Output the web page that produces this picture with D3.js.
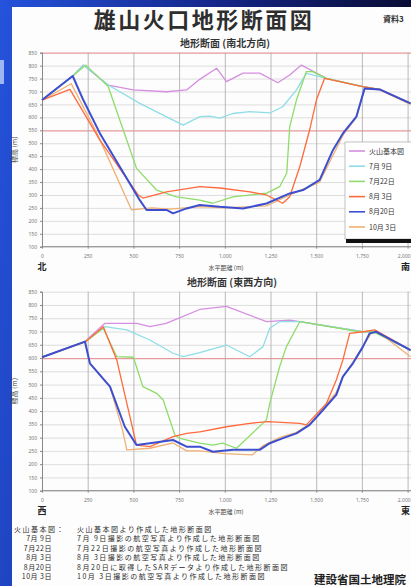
<!DOCTYPE html>
<html>
<head>
<meta charset="utf-8">
<script src="https://cdn.jsdelivr.net/npm/d3@7"></script>
<style>
	body { margin: 0; overflow: hidden; background: #1b3cc4; }
	svg { display: block; font-family: "Noto Sans CJK JP", "Noto Sans", sans-serif; }
</style>
</head>
<body>
<div id="root"></div>
<script>
// series names / colours
const seriesNames = ["火山基本図", "7月 9日", "7月22日", "8月 3日", "8月20日", "10月 3日"];
const seriesColors = ["#d58ee0", "#8fdde6", "#8edc6a", "#ff6a3c", "#3c4fd0", "#efb072"];
const distTicks = [0, 250, 500, 750, 1000, 1250, 1500, 1750, 2000];
const elevTicks = [100, 150, 200, 250, 300, 350, 400, 450, 500, 550, 600, 650, 700, 750, 800, 850];

// 南北方向 [distance m, elevation m]
const nsKihon = [[0,667],[168,760],[226,802],[362,725],[499,706],[681,699],[791,706],[863,747],[955,790],[1009,738],[1100,771],[1191,771],[1290,734],[1355,764],[1419,802],[1556,751],[1754,719],[1847,708],[2016,654]];
const nsJul09 = [[0,667],[168,760],[226,802],[362,725],[535,654],[772,570],[863,603],[918,605],[973,597],[1044,615],[1137,622],[1246,617],[1317,641],[1392,706],[1446,770],[1556,751],[1754,719],[1847,708],[2016,654]];
const nsJul22 = [[0,667],[168,760],[240,802],[362,719],[517,403],[627,319],[736,293],[863,280],[934,268],[1044,293],[1229,307],[1300,332],[1339,385],[1355,564],[1392,667],[1446,777],[1481,777],[1556,751],[1754,719],[1847,708],[2016,654]];
const nsAug03 = [[0,667],[153,708],[317,512],[526,300],[552,288],[681,312],[863,332],[973,327],[1137,312],[1228,300],[1317,268],[1355,293],[1410,409],[1464,551],[1501,667],[1546,751],[1754,719],[1847,708],[2016,654]];
const nsAug20 = [[0,667],[168,760],[226,667],[317,538],[535,280],[572,242],[681,242],[717,229],[791,248],[863,261],[973,254],[1100,248],[1228,267],[1355,306],[1428,319],[1519,358],[1592,474],[1646,538],[1720,603],[1765,712],[1847,708],[2016,654]];
const nsOct03 = [[0,667],[160,730],[300,540],[490,242],[600,250],[700,245],[863,255],[1000,250],[1228,258],[1355,300],[1519,350],[1646,530],[1720,600],[1765,712],[1847,706],[2016,650]];

// 東西方向
const ewKihon = [[0,603],[235,662],[344,731],[519,731],[590,718],[679,731],[863,783],[1009,795],[1228,737],[1355,743],[1410,737],[1754,699],[1820,699],[2016,630]];
const ewJul09 = [[0,603],[235,662],[344,718],[464,706],[590,668],[717,618],[772,605],[863,620],[1009,649],[1137,605],[1209,643],[1246,712],[1300,737],[1410,737],[1754,699],[1820,699],[2016,630]];
const ewJul22 = [[0,603],[240,662],[335,712],[409,605],[500,603],[552,492],[627,467],[663,442],[727,310],[754,297],[863,279],[935,272],[989,279],[1064,260],[1228,367],[1246,429],[1300,567],[1337,643],[1410,737],[1738,699],[1810,699],[2016,630]];
const ewAug03 = [[0,603],[240,662],[335,718],[409,593],[517,272],[590,266],[717,304],[791,316],[863,322],[1009,341],[1137,354],[1237,360],[1410,354],[1446,348],[1556,429],[1610,517],[1646,593],[1683,693],[1756,699],[1820,706],[2016,630]];
const ewAug20 = [[0,603],[235,662],[262,580],[372,492],[453,341],[517,272],[590,279],[717,291],[791,266],[863,266],[935,247],[1044,254],[1191,254],[1246,279],[1319,298],[1392,316],[1464,348],[1537,404],[1610,461],[1646,530],[1701,580],[1756,643],[1792,693],[1829,699],[2016,630]];
const ewOct03 = [[0,603],[235,662],[262,580],[372,492],[440,330],[464,254],[590,260],[717,280],[791,250],[863,250],[1000,240],[1150,235],[1210,270],[1300,300],[1392,320],[1464,352],[1537,410],[1610,470],[1646,530],[1701,585],[1756,645],[1800,693],[1838,699],[2016,605]];

const noteLabels = ["火山基本図：", "7月 9日", "7月22日", "8月 3日", "8月20日", "10月 3日"];
const noteTexts = [
	"火山基本図より作成した地形断面図",
	"7月 9日撮影の航空写真より作成した地形断面図",
	"7月22日撮影の航空写真より作成した地形断面図",
	"8月 3日撮影の航空写真より作成した地形断面図",
	"8月20日に取得したSARデータより作成した地形断面図",
	"10月 3日撮影の航空写真より作成した地形断面図"
];

const W = 411, H = 586;

const makePage = () => {
	const svg = d3.select("#root").append("svg").attr("width", W).attr("height", H);

	const defs = svg.append("defs");
	const grad = defs.append("linearGradient").attr("id", "bg").attr("x1", 0).attr("y1", 0).attr("x2", 1).attr("y2", 0.15);
	grad.append("stop").attr("offset", 0).attr("stop-color", "#2553dc");
	grad.append("stop").attr("offset", 0.5).attr("stop-color", "#14278c");
	grad.append("stop").attr("offset", 1).attr("stop-color", "#080b30");

	svg.append("rect").attr("width", W).attr("height", H).attr("fill", "url(#bg)");
	svg.append("rect").attr("x", 0).attr("y", 60).attr("width", 4).attr("height", 24).attr("fill", "#9cb8f2");
	svg.append("rect").attr("x", 12).attr("y", 7).attr("width", W - 12).attr("height", H - 7).attr("fill", "#fdfdfd");

	svg.append("text").attr("x", 204).attr("y", 28).attr("text-anchor", "middle")
		.attr("font-size", 22).attr("font-weight", "bold").attr("letter-spacing", 2.5).attr("fill", "#2e2e2e")
		.text("雄山火口地形断面図");
	svg.append("text").attr("x", 383).attr("y", 22).attr("font-size", 8).attr("font-weight", "bold").attr("fill", "#333")
		.text("資料3");

	return svg;
};

const renderChart = (svg, cfg) => {
	const x = d3.scaleLinear().domain([0, 2000]).range([42, 407.6]);
	const y = d3.scaleLinear().domain([100, 850]).range([cfg.bottom, cfg.top]);
	const g = svg.append("g");

	svg.append("text").attr("x", cfg.subX).attr("y", cfg.top - 6).attr("text-anchor", "middle")
		.attr("font-size", 10).attr("font-weight", "bold").attr("fill", "#333").text(cfg.title);

	// grid
	g.append("g")
		.attr("transform", "translate(42,0)")
		.call(d3.axisLeft(y).tickValues(elevTicks).tickSize(-380).tickFormat(""))
		.call(a => a.select(".domain").remove())
		.selectAll("line")
			.attr("stroke", d => cfg.redLines.includes(d) ? "#e69a9a" : "#d6d6d6")
			.attr("stroke-width", d => cfg.redLines.includes(d) ? 1.2 : 0.8);

	g.append("g")
		.attr("transform", `translate(0,${ cfg.bottom })`)
		.call(d3.axisBottom(x).tickValues(distTicks).tickSize(-(cfg.bottom - cfg.top)).tickFormat(""))
		.call(a => a.select(".domain").remove())
		.selectAll("line").attr("stroke", "#a8a8a8").attr("stroke-width", 0.8);

	// axes
	const yAxis = g.append("g")
		.attr("transform", "translate(42,0)")
		.call(d3.axisLeft(y).tickValues(elevTicks).tickSize(2).tickPadding(3));
	const xAxis = g.append("g")
		.attr("transform", `translate(0,${ cfg.bottom })`)
		.call(d3.axisBottom(x).tickValues(distTicks).tickSize(2).tickPadding(6));
	[yAxis, xAxis].forEach(a => {
		a.attr("font-size", 5).attr("font-family", "Noto Sans");
		a.selectAll("text").attr("fill", "#777");
		a.selectAll("line, .domain").attr("stroke", "#888");
	});
	xAxis.select(".domain").attr("d", `M42,0H420`);
	xAxis.selectAll(".tick text").filter(d => d === 2000).attr("text-anchor", "end").attr("dx", 2.5);

	g.append("text")
		.attr("transform", `translate(17,${ (cfg.top + cfg.bottom) / 2 }) rotate(-90)`)
		.attr("text-anchor", "middle").attr("font-size", 7).attr("fill", "#444").text("標高 (m)");
	g.append("text").attr("x", 226).attr("y", cfg.bottom + 23).attr("text-anchor", "middle")
		.attr("font-size", 6).attr("fill", "#444").text("水平距離 (m)");
	g.append("text").attr("x", 42).attr("y", cfg.bottom + 23).attr("text-anchor", "middle")
		.attr("font-size", 9).attr("font-weight", "bold").attr("fill", "#222").text(cfg.leftLabel);
	g.append("text").attr("x", 401).attr("y", cfg.bottom + 23)
		.attr("font-size", 9).attr("font-weight", "bold").attr("fill", "#222").text(cfg.rightLabel);

	// profiles
	const line = d3.line().x(d => x(d[0])).y(d => y(d[1]));
	const order = [0, 1, 2, 5, 3, 4];
	g.selectAll(".profile")
		.data(order)
		.enter()
		.append("path")
			.attr("class", "profile")
			.attr("d", i => line(cfg.data[i]))
			.attr("fill", "none")
			.attr("stroke", i => seriesColors[i])
			.attr("stroke-width", i => i === 4 ? 2 : 1.3)
			.attr("stroke-linejoin", "round");
};

const renderLegend = (svg) => {
	const lg = svg.append("g").attr("transform", "translate(345,142)");
	lg.append("rect").attr("x", 0).attr("y", 0).attr("width", 70).attr("height", 97)
		.attr("fill", "#fff").attr("stroke", "#999").attr("stroke-width", 0.6);
	lg.append("rect").attr("x", 1).attr("y", 97).attr("width", 70).attr("height", 4).attr("fill", "#111");
	const items = lg.selectAll(".item").data(seriesNames).enter()
		.append("g").attr("class", "item")
		.attr("transform", (d, i) => `translate(0,${ 9 + i * 15.2 })`);
	items.append("line").attr("x1", 4).attr("x2", 20)
		.attr("stroke", (d, i) => seriesColors[i]).attr("stroke-width", 1.6);
	items.append("text").attr("x", 24).attr("y", 2.5).attr("font-size", 7).attr("fill", "#333").text(d => d);
};

const renderNotes = (svg) => {
	const notes = svg.append("g");
	noteLabels.forEach((lab, i) => {
		const yy = 532 + i * 9.4;
		notes.append("text").attr("x", i === 0 ? 14 : 52).attr("y", yy)
			.attr("text-anchor", i === 0 ? "start" : "end")
			.attr("font-size", 7).attr("letter-spacing", i === 0 ? 1.5 : 0.5).attr("fill", "#2a2a2a").text(lab);
		notes.append("text").attr("x", 77).attr("y", yy)
			.attr("font-size", 7).attr("letter-spacing", 1.5).attr("fill", "#2a2a2a").text(noteTexts[i]);
	});
	svg.append("text").attr("x", 314).attr("y", 584).attr("font-size", 11.5).attr("font-weight", "bold")
		.attr("fill", "#222").text("建設省国土地理院");
};

const svg = makePage();
renderChart(svg, {
	top: 52.7, bottom: 246.7, subX: 225, title: "地形断面 (南北方向)",
	leftLabel: "北", rightLabel: "南", redLines: [850, 550],
	data: [nsKihon, nsJul09, nsJul22, nsAug03, nsAug20, nsOct03]
});
renderChart(svg, {
	top: 291.7, bottom: 490.7, subX: 232, title: "地形断面 (東西方向)",
	leftLabel: "西", rightLabel: "東", redLines: [600],
	data: [ewKihon, ewJul09, ewJul22, ewAug03, ewAug20, ewOct03]
});
renderLegend(svg);
renderNotes(svg);
</script>
</body>
</html>
